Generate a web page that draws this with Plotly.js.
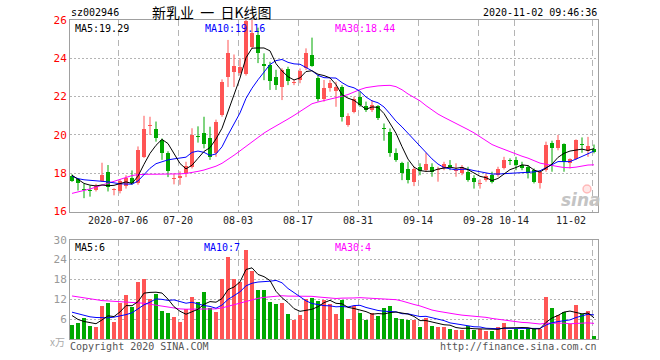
<!DOCTYPE html>
<html><head><meta charset="utf-8">
<script src="https://cdn.plot.ly/plotly-3.0.1.min.js"></script>
<style>html,body{margin:0;padding:0;background:#fff}</style>
</head><body><div id="chart" style="width:660px;height:360px"></div>
<script>
// ---- data ----
const opens  = [17.85,17.68,17.20,17.13,17.12,17.62,18.08,17.12,17.10,17.35,17.75,17.50,18.85,20.45,20.30,19.73,19.05,17.70,17.75,18.00,
                18.34,19.95,20.08,19.82,19.04,21.04,23.04,23.30,23.25,23.20,24.60,25.20,23.68,23.65,23.00,22.52,23.44,22.70,22.87,23.47,
                24.17,22.95,21.90,22.43,22.31,22.52,20.52,21.21,22.00,21.50,21.30,21.50,20.38,20.17,19.04,18.52,18.20,17.56,18.34,18.16,
                18.34,18.18,18.25,18.43,18.13,18.00,18.08,17.73,17.45,17.64,17.90,17.90,18.25,18.69,18.69,18.43,18.34,18.16,17.47,18.16,
                19.60,19.30,19.52,18.55,18.72,19.52,19.18,19.25];
const highs  = [17.95,17.75,17.45,17.35,17.45,18.55,18.43,17.22,17.70,17.90,18.15,19.40,21.00,20.95,20.70,19.82,19.15,17.98,18.10,18.60,
                20.35,20.45,20.95,20.43,20.80,22.90,24.96,24.20,24.00,26.10,26.00,25.60,24.26,23.82,23.40,23.48,23.56,22.87,23.47,24.52,
                25.08,23.13,22.87,22.87,22.78,22.60,21.13,22.00,22.26,21.74,21.82,21.56,20.60,20.34,19.30,18.60,18.60,18.34,18.52,19.07,
                18.52,18.34,18.60,18.69,18.52,18.43,18.34,17.90,17.68,18.00,18.08,18.34,18.86,18.78,18.86,18.60,18.43,18.25,18.16,19.65,
                19.70,20.00,19.56,18.78,19.77,19.87,19.90,19.50];
const lows   = [17.55,17.10,16.70,16.78,17.05,17.55,17.05,16.85,16.95,17.20,17.40,17.40,18.80,20.00,19.65,18.70,17.80,17.42,17.40,17.80,
                18.25,19.60,19.30,18.70,18.86,20.95,22.50,22.50,23.10,23.10,24.50,23.75,22.86,22.35,22.35,21.82,22.60,22.60,22.70,23.39,
                23.56,21.74,21.74,22.26,21.47,20.70,20.43,21.13,21.47,21.20,21.20,20.78,19.70,18.86,18.60,17.64,17.47,17.33,17.90,18.08,
                17.82,17.56,18.16,18.16,17.82,17.90,17.56,17.20,17.20,17.56,17.47,17.82,18.20,18.43,18.16,18.16,17.73,17.47,17.20,18.08,
                18.08,19.20,18.08,18.25,18.69,19.07,18.86,19.04];
const closes = [17.62,17.50,17.12,17.10,17.35,17.90,17.30,17.18,17.60,17.75,17.50,19.20,20.30,20.47,19.82,19.05,18.10,17.75,17.85,18.38,
                20.00,19.90,19.55,18.86,20.66,22.78,24.26,23.60,23.55,25.95,25.30,24.30,23.62,22.80,22.60,23.39,22.80,22.78,23.33,24.26,
                23.60,21.90,22.43,22.69,22.52,20.95,20.99,21.90,21.56,21.30,21.56,20.87,20.30,19.04,18.69,18.03,17.64,18.20,18.13,18.48,
                18.08,18.22,18.48,18.34,18.16,18.34,17.64,17.56,17.48,17.85,17.56,18.20,18.69,18.64,18.43,18.25,17.99,17.56,18.08,19.47,
                19.30,19.73,18.60,18.72,19.73,19.50,19.42,19.12];
const ma5  = [17.90,17.68,17.47,17.38,17.34,17.39,17.35,17.37,17.47,17.55,17.47,17.85,18.47,19.04,19.46,19.77,19.55,19.04,18.51,18.23,
              18.42,18.78,19.14,19.34,19.79,20.35,21.22,22.03,22.97,24.03,24.53,24.54,24.54,24.39,23.72,23.34,23.04,22.87,22.98,23.31,
              23.35,23.17,23.10,22.98,22.63,22.10,21.92,21.81,21.58,21.34,21.46,21.44,21.12,20.61,20.09,19.39,18.74,18.32,18.14,18.10,
              18.11,18.22,18.28,18.32,18.26,18.31,18.19,18.01,17.84,17.77,17.62,17.73,17.96,18.19,18.30,18.44,18.40,18.17,18.06,18.27,
              18.48,18.83,19.04,19.16,19.22,19.26,19.19,19.29];
const ma10 = [17.85,17.72,17.66,17.62,17.60,17.58,17.55,17.50,17.45,17.44,17.43,17.60,17.92,18.26,18.50,18.62,18.70,18.75,18.78,18.84,
              19.09,19.16,19.09,18.93,19.01,19.38,20.00,20.58,21.15,21.91,22.44,22.88,23.29,23.68,23.88,23.94,23.79,23.71,23.69,23.52,
              23.35,23.11,22.99,22.98,22.97,22.73,22.55,22.46,22.28,21.98,21.78,21.68,21.46,21.10,20.72,20.42,20.09,19.72,19.38,19.09,
              18.75,18.48,18.30,18.23,18.18,18.21,18.21,18.14,18.08,18.02,17.96,17.96,17.98,18.01,18.04,18.03,18.07,18.07,18.13,18.29,
              18.46,18.61,18.61,18.61,18.74,18.87,19.01,19.16];
const ma30 = [16.95,17.02,17.10,17.18,17.28,17.38,17.48,17.60,17.70,17.80,17.88,17.93,17.95,17.95,17.95,17.95,17.95,17.96,17.97,17.99,
              18.03,18.10,18.17,18.25,18.37,18.52,18.72,18.94,19.17,19.40,19.65,19.88,20.10,20.29,20.46,20.65,20.83,21.02,21.21,21.42,
              21.63,21.72,21.79,21.86,21.95,22.02,22.11,22.25,22.37,22.47,22.52,22.56,22.58,22.59,22.52,22.36,22.14,21.96,21.78,21.53,
              21.29,21.09,20.92,20.77,20.62,20.45,20.28,20.11,19.91,19.70,19.50,19.37,19.25,19.11,18.98,18.89,18.79,18.64,18.53,18.47,
              18.39,18.35,18.30,18.29,18.32,18.37,18.43,18.44];
const volumes = [4.3,4.8,6.3,4.0,3.7,10.0,11.0,5.2,11.0,13.3,9.8,17.1,18.1,12.1,13.6,8.5,7.9,6.7,5.2,9.1,
                 12.7,11.2,14.2,9.3,8.2,18.1,24.8,18.1,17.1,26.9,20.6,14.8,14.8,11.2,10.6,10.9,7.6,5.6,7.1,12.1,
                 12.5,11.5,11.7,10.6,7.6,11.8,6.1,10.0,7.9,5.6,7.9,7.0,9.4,10.0,6.4,6.1,5.8,5.8,3.7,6.4,
                 4.0,3.7,3.7,3.1,2.8,2.8,4.0,2.8,3.1,2.5,2.5,3.7,4.9,2.8,3.1,2.8,3.4,3.1,3.1,12.7,
                 9.4,7.3,8.2,4.6,10.3,7.6,8.5,1.0];
const vma5  = [7.1,5.9,5.3,4.9,4.62,5.76,7.0,6.78,8.18,10.1,10.06,11.28,13.86,14.08,14.14,13.88,12.04,9.76,8.38,7.48,
               8.32,8.98,10.48,11.3,11.12,12.2,14.92,15.7,17.26,21.0,21.5,19.5,18.84,17.66,14.4,12.46,11.02,9.18,8.36,8.66,
               8.98,9.76,10.98,11.68,10.78,10.64,9.56,9.22,8.68,8.28,7.5,7.68,7.56,7.98,8.14,7.78,7.54,6.82,5.56,5.56,
               5.14,4.72,4.3,4.18,3.46,3.22,3.28,3.1,3.1,3.04,2.98,2.92,3.34,3.28,3.4,3.46,3.4,3.04,3.1,5.02,
               6.34,7.12,8.14,8.44,7.96,7.6,7.84,6.4];
const vma10 = [8.1,7.6,7.0,6.7,6.5,6.4,6.4,6.6,6.9,7.36,7.91,9.14,10.32,11.13,12.12,11.97,11.66,11.81,11.23,10.81,
               11.1,10.51,10.12,9.84,9.3,10.26,11.95,13.09,14.28,16.06,16.85,17.21,17.27,17.46,17.7,16.98,15.26,14.01,13.01,11.53,
               10.72,10.39,10.08,10.02,9.72,9.81,9.66,10.1,10.18,9.53,9.07,8.62,8.39,8.33,8.21,7.64,7.61,7.19,6.77,6.85,
               6.46,6.13,5.56,4.87,4.51,4.18,4.0,3.7,3.64,3.25,3.1,3.1,3.22,3.19,3.22,3.22,3.16,3.19,3.19,4.21,
               4.9,5.26,5.59,5.77,6.49,6.97,7.48,7.27];
const vma30 = [13.0,12.7,12.3,12.0,11.8,11.6,11.5,11.4,11.3,11.2,11.1,11.0,10.8,10.5,10.2,9.8,9.5,9.2,9.1,9.0,
               9.0,9.0,9.0,9.0,9.1,9.4,9.9,10.4,11.0,11.41,11.95,12.29,12.57,12.81,13.04,13.07,12.96,12.97,12.84,12.8,
               12.89,12.7,12.49,12.44,12.24,12.35,12.29,12.4,12.49,12.37,12.21,12.07,11.91,11.94,11.88,11.48,10.84,10.43,9.99,9.3,
               8.75,8.38,8.01,7.74,7.48,7.21,7.09,7.0,6.86,6.54,6.21,5.95,5.72,5.46,5.31,5.01,4.92,4.69,4.53,4.77,
               4.82,4.83,4.79,4.61,4.74,4.79,4.88,4.72];
const tickIdx    = [8,18,28,38,48,58,68,74,87];
const tickLabels = ["2020-07-06","07-20","08-03","08-17","08-31","09-14","09-28","10-14","11-02"];
const priceTicks = [16,18,20,22,24,26];
const volTicks   = [6,12,18,24,30];

// ---- styling ----
const RED = '#ff5555', GREEN = '#00a800', GRID = '#b4b4b4', BOX = '#a0a0a0';
const MONO = 'DejaVu Sans Mono';
const idx = closes.map((_, i) => i);
const isUp = closes.map((c, i) => c >= opens[i]);
const colors = isUp.map(u => u ? RED : GREEN);

const wick = {up: {x: [], y: []}, dn: {x: [], y: []}};
idx.forEach(i => {
  const w = isUp[i] ? wick.up : wick.dn;
  w.x.push(i, i, null); w.y.push(lows[i], highs[i], null);
});

const traces = [
  {type: 'scatter', mode: 'lines', x: wick.up.x, y: wick.up.y, line: {color: RED, width: 1}, hoverinfo: 'skip', xaxis: 'x', yaxis: 'y'},
  {type: 'scatter', mode: 'lines', x: wick.dn.x, y: wick.dn.y, line: {color: GREEN, width: 1}, hoverinfo: 'skip', xaxis: 'x', yaxis: 'y'},
  {type: 'bar', x: idx, base: idx.map(i => Math.min(opens[i], closes[i])),
   y: idx.map(i => Math.max(Math.abs(closes[i] - opens[i]), 0.05)),
   width: 0.8, marker: {color: colors, line: {width: 0}}, hoverinfo: 'skip', xaxis: 'x', yaxis: 'y'},
  {type: 'scatter', mode: 'lines', x: idx, y: ma30, line: {color: '#ff00ff', width: 1}, xaxis: 'x', yaxis: 'y'},
  {type: 'scatter', mode: 'lines', x: idx, y: ma10, line: {color: '#0000ff', width: 1}, xaxis: 'x', yaxis: 'y'},
  {type: 'scatter', mode: 'lines', x: idx, y: ma5,  line: {color: '#000000', width: 1}, xaxis: 'x', yaxis: 'y'},
  {type: 'bar', x: idx, y: volumes, width: 0.8, marker: {color: colors, line: {width: 0}}, xaxis: 'x2', yaxis: 'y2'},
  {type: 'scatter', mode: 'lines', x: idx, y: vma30, line: {color: '#ff00ff', width: 1}, xaxis: 'x2', yaxis: 'y2'},
  {type: 'scatter', mode: 'lines', x: idx, y: vma10, line: {color: '#0000ff', width: 1}, xaxis: 'x2', yaxis: 'y2'},
  {type: 'scatter', mode: 'lines', x: idx, y: vma5,  line: {color: '#000000', width: 1}, xaxis: 'x2', yaxis: 'y2'}
];

const gridX = tickIdx.map(i => i - 0.3);
const xCommon = {range: [-0.333, 87.667], tickvals: gridX, showticklabels: false, ticks: '',
  showgrid: true, gridcolor: GRID, griddash: '6px,4px', gridwidth: 1, zeroline: false,
  showline: true, mirror: true, linecolor: BOX, linewidth: 1, fixedrange: true};
const yCommon = {showgrid: true, gridcolor: GRID, griddash: '2px,2px', gridwidth: 1, zeroline: false,
  showline: true, mirror: true, linecolor: BOX, linewidth: 1, ticks: '', fixedrange: true};

const H = 319, W = 528; // plot area px
const py = p => 1 - (p - 20) / H;   // pixel y -> paper
const px = p => (p - 70) / W;       // pixel x -> paper
const txt = (text, x, y, xa, color, size, extra) => Object.assign({text, x, y, xref: 'paper', yref: 'paper',
  xanchor: xa, yanchor: 'middle', showarrow: false, font: {family: MONO, size: size || 10, color}}, extra || {});

const annotations = [
  txt('sz002946', px(69), py(12), 'left', '#000', 10),
  txt('新乳业  一  日K线图', px(212), py(12), 'center', '#000', 14, {font: {family: 'Noto Sans CJK SC', size: 14, color: '#000'}}),
  txt('2020-11-02 09:46:36', px(599), py(12), 'right', '#000', 10),
  txt('MA5:19.29', px(73), py(28), 'left', '#000'),
  txt('MA10:19.16', px(203), py(28), 'left', '#0000ff'),
  txt('MA30:18.44', px(333), py(28), 'left', '#ff00ff'),
  txt('MA5:6', px(73), py(247), 'left', '#000'),
  txt('MA10:7', px(202), py(247), 'left', '#0000ff'),
  txt('MA30:4', px(333), py(247), 'left', '#ff00ff'),
  txt('x万', px(67), py(341), 'right', '#aaaaaa', 10, {font: {family: 'Noto Sans CJK SC', size: 10, color: '#aaaaaa'}}),
  txt('Copyright 2020 SINA.COM', px(68), py(346), 'left', '#555'),
  txt('http://finance.sina.com.cn', px(599), py(346), 'right', '#555'),
  txt('sina', px(581), py(200), 'center', '#c4c4c4', 17, {font: {family: 'DejaVu Sans', size: 17, color: '#c4c4c4', style: 'italic', weight: 'bold'}})
];
tickLabels.forEach((t, k) => {
  const last = k === tickLabels.length - 1;
  annotations.push({text: t, x: last ? tickIdx[k] - 0.95 : tickIdx[k] - 0.3, y: py(220), xref: 'x', yref: 'paper',
    xanchor: last ? 'right' : 'center', yanchor: 'middle', showarrow: false, font: {family: MONO, size: 10, color: '#222'}});
});

const layout = {
  width: 660, height: 360, margin: {l: 70, r: 62, t: 20, b: 21},
  paper_bgcolor: '#fff', plot_bgcolor: '#fff', showlegend: false, bargap: 0,
  xaxis: Object.assign({}, xCommon, {domain: [0, 1], anchor: 'y'}),
  xaxis2: Object.assign({}, xCommon, {domain: [0, 1], anchor: 'y2'}),
  yaxis: Object.assign({}, yCommon, {domain: [0.3994, 1], anchor: 'x', range: [16, 26], tickvals: priceTicks,
    ticktext: priceTicks.map(String), tickfont: {family: MONO, size: 11, color: '#ff0000'}}),
  yaxis2: Object.assign({}, yCommon, {domain: [0, 0.3113], anchor: 'x2', range: [0, 30], tickvals: volTicks,
    ticktext: volTicks.map(String), tickfont: {family: MONO, size: 11, color: '#999999'}}),
  annotations,
  shapes: [
    {type: 'circle', xref: 'paper', yref: 'paper', x0: px(583), x1: px(591), y0: py(193), y1: py(185),
     line: {color: 'rgba(255,120,120,0.45)', width: 1.5}, fillcolor: 'rgba(255,160,160,0.25)'}
  ],
  hovermode: false
};

Plotly.newPlot('chart', traces, layout, {staticPlot: true, displayModeBar: false});
</script>
</body></html>
